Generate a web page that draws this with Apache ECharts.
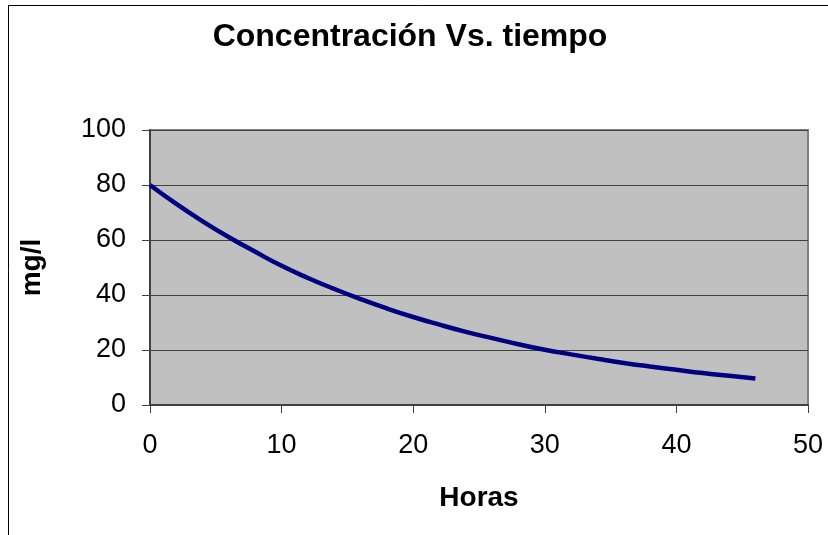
<!DOCTYPE html>
<html>
<head>
<meta charset="utf-8">
<script src="https://cdn.jsdelivr.net/npm/echarts@6/dist/echarts.min.js"></script>
<style>
  html, body { margin: 0; padding: 0; background: #fff; }
  #chartBox { width: 828px; height: 535px; }
</style>
</head>
<body>
<div id="chartBox"></div>
<script>
// hours and concentration
const horas = [0, 2, 4, 6, 8, 10, 12, 14, 16, 18, 20, 22, 24, 26, 28, 30, 32, 34, 36, 38, 40, 42, 44, 46];
const concentracion = [80, 73.1, 66.8, 61.0, 55.7, 50.6, 46.2, 42.2, 38.5, 35.1, 32.0, 29.2, 26.6, 24.3, 22.1, 20.1, 18.4, 16.8, 15.3, 14.0, 12.8, 11.6, 10.6, 9.6];
const xTicks = [0, 10, 20, 30, 40, 50];
const yTicks = [0, 20, 40, 60, 80, 100];

const data = horas.map((h, i) => [h, concentracion[i]]);
const font = "Arial, 'Liberation Sans', sans-serif";

const chartDom = document.getElementById("chartBox");
const myChart = echarts.init(chartDom);
const option = {
  animation: false,
  title: {
    text: "Concentración Vs. tiempo",
    left: 405,
    top: 16,
    textAlign: "center",
    textStyle: { fontFamily: font, fontSize: 32, fontWeight: "bold", color: "#000" },
  },
  graphic: [
    {
      type: "rect",
      shape: { x: 8.5, y: 5.5, width: 840, height: 560 },
      style: { fill: "none", stroke: "#000", lineWidth: 1 },
      z: -1,
    },
  ],
  grid: {
    left: 150,
    right: 20,
    top: 130,
    height: 275,
    show: true,
    backgroundColor: "#c0c0c0",
    borderColor: "#808080",
    borderWidth: 2,
  },
  xAxis: {
    type: "value",
    min: 0,
    max: 50,
    interval: 10,
    name: "Horas",
    nameLocation: "middle",
    nameGap: 79,
    nameTextStyle: { fontFamily: font, fontSize: 28, fontWeight: "bold", color: "#000" },
    axisLine: { show: true, lineStyle: { color: "#404040", width: 2 } },
    axisTick: { show: true, length: 8, lineStyle: { color: "#404040", width: 1 } },
    axisLabel: {
      fontFamily: font, fontSize: 27, color: "#000", margin: 27,
      formatter: (v) => (xTicks.includes(v) ? String(v) : ""),
    },
    splitLine: { show: false },
  },
  yAxis: {
    type: "value",
    min: 0,
    max: 100,
    interval: 20,
    name: "mg/l",
    nameLocation: "middle",
    nameGap: 104,
    nameRotate: 90,
    nameTextStyle: { fontFamily: font, fontSize: 28, fontWeight: "bold", color: "#000" },
    axisLine: { show: true, lineStyle: { color: "#404040", width: 2 } },
    axisTick: { show: true, length: 8, lineStyle: { color: "#404040", width: 1 } },
    axisLabel: {
      fontFamily: font, fontSize: 27, color: "#000", margin: 24,
      formatter: (v) => (yTicks.includes(v) ? String(v) : ""),
    },
    splitLine: { show: true, lineStyle: { color: "#404040", width: 1 } },
  },
  series: [
    {
      type: "line",
      smooth: true,
      symbol: "none",
      data: data,
      lineStyle: { color: "#000080", width: 4.5 },
    },
  ],
};
myChart.setOption(option);
</script>
</body>
</html>
